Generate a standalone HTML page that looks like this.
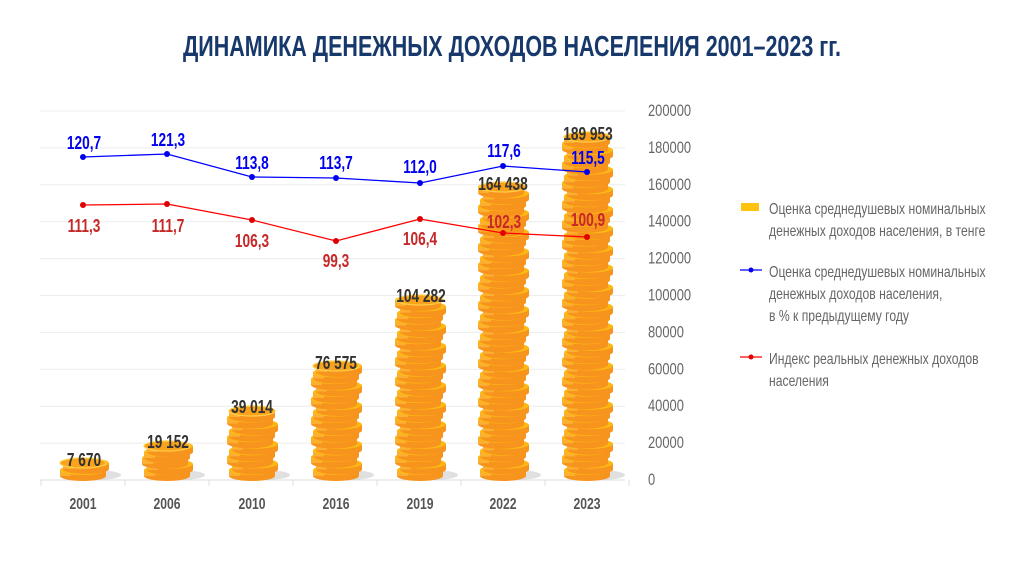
<!DOCTYPE html>
<html><head><meta charset="utf-8"><style>
body{margin:0;background:#fff;width:1024px;height:576px;overflow:hidden}
svg{display:block}
text{font-family:"Liberation Sans Narrow","Liberation Sans",sans-serif}
</style></head><body>
<svg id="s" width="1024" height="576" viewBox="0 0 1024 576">
<text x="512" y="56" text-anchor="middle" font-size="29" font-weight="bold" fill="#16386b" textLength="658" lengthAdjust="spacingAndGlyphs">ДИНАМИКА ДЕНЕЖНЫХ ДОХОДОВ НАСЕЛЕНИЯ 2001–2023 гг.</text>
<g id="grid" stroke="#ececec" stroke-width="1"></g>
<g id="coins"></g>
<g font-size="16" font-weight="bold" fill="#555" text-anchor="middle" class="n">
<text x="83" y="509">2001</text><text x="167" y="509">2006</text><text x="252" y="509">2010</text><text x="336" y="509">2016</text><text x="420" y="509">2019</text><text x="503" y="509">2022</text><text x="587" y="509">2023</text>
</g>
<g font-size="17" fill="#666" id="ylab" class="n"></g>
<g font-size="18" font-weight="bold" fill="#333" text-anchor="middle" class="n">
<text x="84" y="466">7 670</text><text x="168" y="448">19 152</text><text x="252" y="413">39 014</text><text x="336" y="369">76 575</text><text x="421" y="302">104 282</text><text x="503" y="190">164 438</text><text x="588" y="140">189 953</text>
</g>
<polyline points="83,157 167,154 252,177 336,178 420,183 503,166 587,172" fill="none" stroke="#0000ff" stroke-width="1.3"/>
<polyline points="83,205 167,204 252,220 336,241 420,219 503,233 587,237" fill="none" stroke="#ff0000" stroke-width="1.3"/>
<g fill="#0000ee"><circle cx="83" cy="157" r="3"/><circle cx="167" cy="154" r="3"/><circle cx="252" cy="177" r="3"/><circle cx="336" cy="178" r="3"/><circle cx="420" cy="183" r="3"/><circle cx="503" cy="166" r="3"/><circle cx="587" cy="172" r="3"/></g>
<g fill="#e00000"><circle cx="83" cy="205" r="3"/><circle cx="167" cy="204" r="3"/><circle cx="252" cy="220" r="3"/><circle cx="336" cy="241" r="3"/><circle cx="420" cy="219" r="3"/><circle cx="503" cy="233" r="3"/><circle cx="587" cy="237" r="3"/></g>
<g font-size="18" font-weight="bold" fill="#0000ee" text-anchor="middle" class="n">
<text x="84" y="149">120,7</text><text x="168" y="146">121,3</text><text x="252" y="169">113,8</text><text x="336" y="169">113,7</text><text x="420" y="173">112,0</text><text x="504" y="157">117,6</text><text x="588" y="164">115,5</text>
</g>
<g font-size="18" font-weight="bold" fill="#c62828" text-anchor="middle" class="n">
<text x="84" y="232">111,3</text><text x="168" y="232">111,7</text><text x="252" y="247">106,3</text><text x="336" y="267">99,3</text><text x="420" y="245">106,4</text><text x="504" y="228">102,3</text><text x="588" y="226">100,9</text>
</g>
<rect x="741" y="203" width="18" height="8" fill="#ffc20e"/>
<line x1="740" y1="270" x2="762" y2="270" stroke="#0000ff" stroke-width="1.3"/><circle cx="751" cy="270" r="2.5" fill="#0000ee"/>
<line x1="740" y1="357" x2="762" y2="357" stroke="#ff0000" stroke-width="1.3"/><circle cx="751" cy="357" r="2.5" fill="#e00000"/>
<g font-size="16" fill="#666" class="n">
<text x="769" y="214">Оценка среднедушевых номинальных</text>
<text x="769" y="236">денежных доходов населения, в тенге</text>
<text x="769" y="277">Оценка среднедушевых номинальных</text>
<text x="769" y="299">денежных доходов населения,</text>
<text x="769" y="321">в % к предыдущему году</text>
<text x="769" y="364">Индекс реальных денежных доходов</text>
<text x="769" y="386">населения</text>
</g>
</svg>
<script>
var NS="http://www.w3.org/2000/svg";
function el(p,t,a){var e=document.createElementNS(NS,t);for(var q in a)e.setAttribute(q,a[q]);p.appendChild(e);return e;}
var g=document.getElementById('grid'),yl=document.getElementById('ylab');
for(var i=0;i<=10;i++){var yy=480-i*36.9;el(g,'line',{x1:40,x2:625,y1:yy,y2:yy});
var t=el(yl,'text',{x:648,y:yy+5});t.textContent=String(i*20000);}
el(g,'line',{x1:40,x2:625,y1:480,y2:480,stroke:'#ddd'});
for(var i=0;i<8;i++){var xx=41+i*84;el(g,'line',{x1:xx,x2:xx,y1:480,y2:486,stroke:'#ddd'});}
var c=document.getElementById('coins');
var xs=[83,167,252,336,420,503,587],tops=[469,452,417,372,306,193,143];
var R=23;
for(var j=0;j<7;j++){var topY=tops[j];var n=Math.max(1,Math.round((476-topY)/6.5)+1);
var x0=xs[j];
el(c,'ellipse',{cx:x0+12,cy:475,rx:26,ry:5,fill:'#ccc',opacity:0.6});
for(var k=0;k<n;k++){var yb=476-k*(476-topY)/Math.max(1,n-1)+ (n==1?0:0);var off=(k%3==1?3:(k%3==2?-2:0));
if(n==1)yb=476;
var cx=x0+off;
el(c,'path',{d:'M'+(cx-R)+','+(yb-6)+' v6 a'+R+',5 0 0 0 '+(2*R)+',0 v-6 z',fill:'#f7941d'});
el(c,'rect',{x:cx-R,y:yb-6,width:11,height:6,fill:'#fbb034'});
el(c,'ellipse',{cx:cx,cy:yb-6,rx:R,ry:5,fill:'#fdb913'});}
var yt=(n==1?470:topY-6+6);el(c,'ellipse',{cx:x0,cy:(n==1?470:476-(n-1)*(476-topY)/(n-1)-6),rx:R,ry:5,fill:'#f9a21b',stroke:'#ffd04a','stroke-width':1.2});}
var ts=document.querySelectorAll('.n text');
for(var i=0;i<ts.length;i++){var L=ts[i].getComputedTextLength();ts[i].setAttribute('textLength',(L*0.76).toFixed(1));ts[i].setAttribute('lengthAdjust','spacingAndGlyphs');}
</script>
</body></html>
